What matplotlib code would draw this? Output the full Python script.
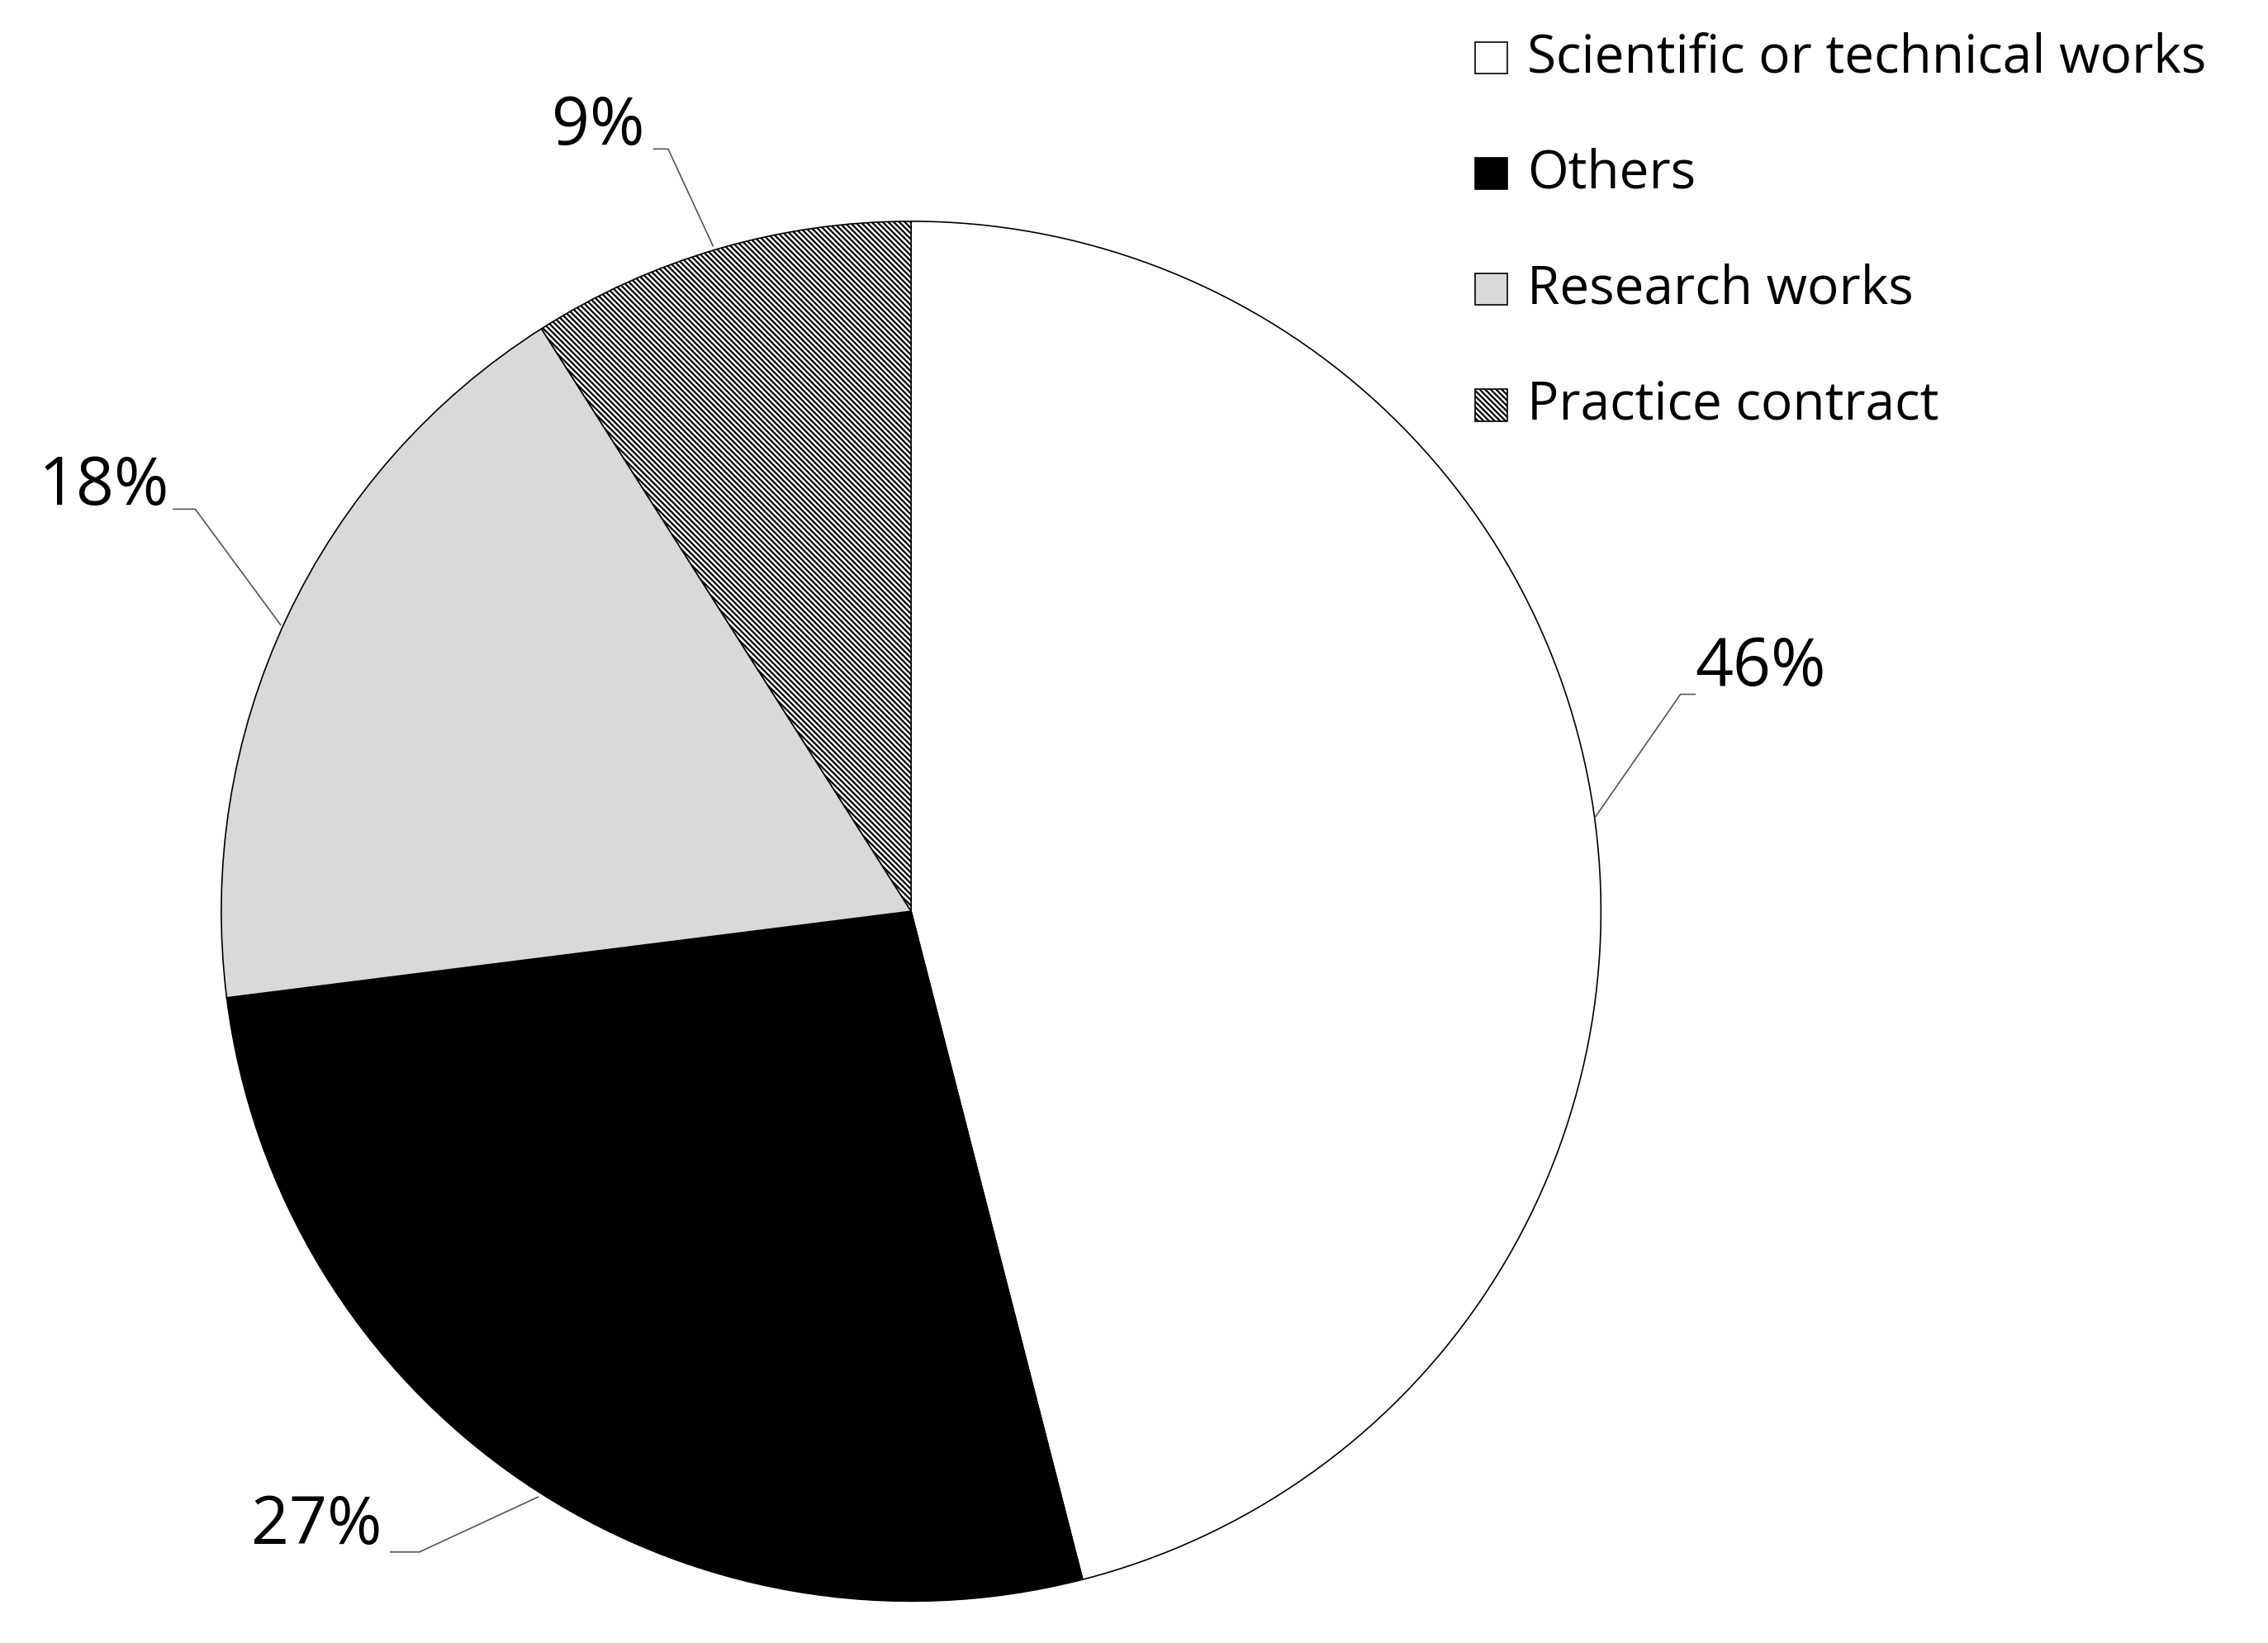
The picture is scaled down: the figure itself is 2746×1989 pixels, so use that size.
import matplotlib
matplotlib.use("Agg")
import matplotlib.pyplot as plt
from matplotlib.patches import Rectangle

categories = ["Scientific or technical works", "Others", "Research works", "Practice contract"]
values = [46, 27, 18, 9]
labels = ["46%", "27%", "18%", "9%"]
colors = ["white", "black", "#d9d9d9", "white"]
hatches = [None, None, None, "\\\\\\\\\\"]

plt.rcParams['font.family'] = ['Open Sans', 'DejaVu Sans']
plt.rcParams['hatch.linewidth'] = 1.6

W, H = 2746, 1989
S = 1.751
fig = plt.figure(figsize=(W/100, H/100), dpi=100)
ax = fig.add_axes([0, 0, 1, 1])
ax.set_xlim(0, W); ax.set_ylim(0, H); ax.set_aspect('equal'); ax.axis('off')

def P(x, y):
    return x*S, H - y*S

cx, cy = P(630, 630)
wedges, _ = ax.pie(values, colors=colors, startangle=90, counterclock=False,
                   center=(cx, cy), radius=477*S, frame=True,
                   wedgeprops=dict(edgecolor='black', linewidth=1.2))
for w, h in zip(wedges, hatches):
    if h:
        w.set_hatch(h)
ax.set_xlim(0, W); ax.set_ylim(0, H); ax.axis('off')

leaders = [
    ([(1103, 565), (1162, 480), (1172, 480)], (1172, 462), 'left'),
    ([(372, 1035), (290, 1073), (270, 1073)], (264, 1055), 'right'),
    ([(194, 432), (135, 352), (120, 352)], (117, 337), 'right'),
    ([(493, 170), (462, 103), (452, 103)], (446, 88), 'right'),
]
for lab, (pts, tp, ha) in zip(labels, leaders):
    xs, ys = zip(*[P(*p) for p in pts])
    ax.plot(xs, ys, color='#555555', lw=1.2)
    tx, ty = P(*tp)
    ax.text(tx, ty, lab, ha=ha, va='center', fontsize=58)

for i, (cat, c, h) in enumerate(zip(categories, colors, hatches)):
    yc = 40 + 80*i
    x0, y0 = P(1020, yc + 11)
    ax.add_patch(Rectangle((x0, y0), 22*S, 22*S, facecolor=c, edgecolor='black',
                           lw=1.2, hatch=h))
    tx, ty = P(1056, yc)
    ax.text(tx, ty, cat, ha='left', va='center', fontsize=46)

fig.savefig("out.png", dpi=100)
